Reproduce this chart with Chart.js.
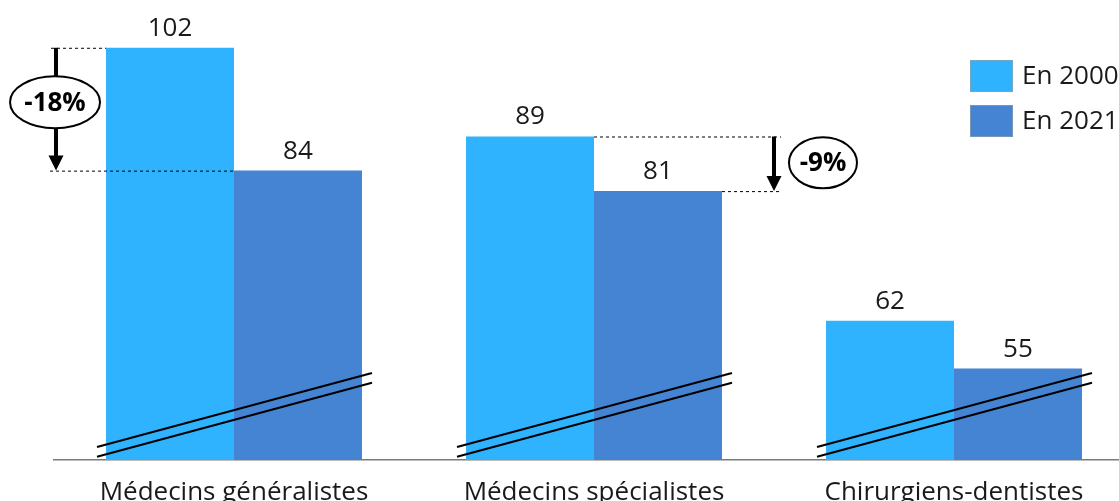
<!DOCTYPE html>
<html lang="fr">
<head>
<meta charset="utf-8">
<script src="https://cdn.jsdelivr.net/npm/chart.js@4"></script>
<style>
    html, body { margin: 0; padding: 0; overflow: hidden; background: #fff; }
    #wrap { width: 1134px; height: 501px; }
</style>
</head>
<body>
<div id="wrap"><canvas id="chart" width="1134" height="501"></canvas></div>
<script>
        // Data
        const categories = ['Médecins généralistes', 'Médecins spécialistes', 'Chirurgiens-dentistes'];
        const seriesLabels = ['En 2000', 'En 2021'];
        const values2000 = [102, 89, 62];
        const values2021 = [84, 81, 55];
        const changeLabels = ['-18%', '-9%', null];

        const FONT = "'Open Sans', 'Noto Sans', sans-serif";
        const TEXT_COLOR = '#1a1a1a';

        // value labels on top of each bar
        const valueLabels = {
            id: 'valueLabels',
            afterDatasetsDraw(chart) {
                const ctx = chart.ctx;
                ctx.save();
                ctx.font = '26px ' + FONT;
                ctx.fillStyle = TEXT_COLOR;
                ctx.textAlign = 'center';
                ctx.textBaseline = 'alphabetic';
                chart.data.datasets.forEach((ds, i) => {
                    chart.getDatasetMeta(i).data.forEach((bar, j) => {
                        ctx.fillText(String(ds.data[j]), bar.x, bar.y - 12);
                    });
                });
                ctx.restore();
            }
        };

        // two slanted lines = broken axis marks
        const breakMarks = {
            id: 'breakMarks',
            afterDatasetsDraw(chart) {
                const ctx = chart.ctx;
                const xs = chart.scales.x;
                const base = chart.chartArea.bottom;
                ctx.save();
                ctx.strokeStyle = '#000';
                ctx.lineWidth = 2;
                categories.forEach((c, i) => {
                    const cx = xs.getPixelForValue(i);
                    [[13, 87], [3.3, 77.3]].forEach(([l, r]) => {
                        ctx.beginPath();
                        ctx.moveTo(cx - 137, base - l);
                        ctx.lineTo(cx + 138, base - r);
                        ctx.stroke();
                    });
                });
                ctx.restore();
            }
        };

        function drawDashed(ctx, x1, x2, y) {
            ctx.save();
            ctx.setLineDash([3, 3]);
            ctx.lineWidth = 1;
            ctx.strokeStyle = '#000';
            ctx.beginPath();
            ctx.moveTo(x1, y + 0.5);
            ctx.lineTo(x2, y + 0.5);
            ctx.stroke();
            ctx.restore();
        }

        function drawArrow(ctx, x, y1, y2) {
            ctx.save();
            ctx.strokeStyle = '#000';
            ctx.fillStyle = '#000';
            ctx.lineWidth = 4;
            ctx.beginPath();
            ctx.moveTo(x, y1);
            ctx.lineTo(x, y2 - 14);
            ctx.stroke();
            ctx.beginPath();
            ctx.moveTo(x - 7.5, y2 - 15);
            ctx.lineTo(x + 7.5, y2 - 15);
            ctx.lineTo(x, y2);
            ctx.closePath();
            ctx.fill();
            ctx.restore();
        }

        function drawBubble(ctx, cx, cy, rx, ry, text) {
            ctx.save();
            ctx.beginPath();
            ctx.ellipse(cx, cy, rx, ry, 0, 0, Math.PI * 2);
            ctx.fillStyle = '#fff';
            ctx.fill();
            ctx.lineWidth = 2;
            ctx.strokeStyle = '#000';
            ctx.stroke();
            ctx.font = 'bold 26px ' + FONT;
            ctx.fillStyle = '#000';
            ctx.textAlign = 'center';
            ctx.textBaseline = 'middle';
            ctx.fillText(text, cx, cy + 1);
            ctx.restore();
        }

        // change arrows (-18%, -9%)
        const changeArrows = {
            id: 'changeArrows',
            afterDatasetsDraw(chart) {
                const ctx = chart.ctx;
                const barsA = chart.getDatasetMeta(0).data;
                const barsB = chart.getDatasetMeta(1).data;
                changeLabels.forEach((label, i) => {
                    if (!label) return;
                    const a = barsA[i], b = barsB[i];
                    const aLeft = a.x - a.width / 2, aRight = a.x + a.width / 2;
                    const bLeft = b.x - b.width / 2, bRight = b.x + b.width / 2;
                    if (i === 0) {
                        const ax = aLeft - 50;
                        drawDashed(ctx, ax - 5, aLeft, a.y);
                        drawDashed(ctx, ax - 6, bLeft, b.y);
                        drawArrow(ctx, ax, a.y, b.y);
                        drawBubble(ctx, ax - 1, (a.y + b.y) / 2 - 7, 45, 26, label);
                    } else {
                        const ax = bRight + 52;
                        drawDashed(ctx, aRight, bRight + 59, a.y);
                        drawDashed(ctx, bRight, bRight + 59, b.y);
                        drawArrow(ctx, ax, a.y, b.y);
                        drawBubble(ctx, bRight + 101, (a.y + b.y) / 2 - 1, 34, 25.5, label);
                    }
                });
            }
        };

        // legend drawn inside the plot, top right
        const insideLegend = {
            id: 'insideLegend',
            afterDatasetsDraw(chart) {
                const ctx = chart.ctx;
                ctx.save();
                ctx.font = '26px ' + FONT;
                ctx.textBaseline = 'middle';
                ctx.textAlign = 'left';
                chart.data.datasets.forEach((ds, i) => {
                    const y = 60 + i * 45;
                    ctx.fillStyle = ds.backgroundColor;
                    ctx.fillRect(970, y, 43, 32);
                    ctx.strokeStyle = 'rgba(160,160,160,0.6)';
                    ctx.lineWidth = 1;
                    ctx.strokeRect(970.5, y + 0.5, 42, 31);
                    ctx.fillStyle = TEXT_COLOR;
                    ctx.fillText(ds.label, 1022, y + 17);
                });
                ctx.restore();
            }
        };

        new Chart(document.getElementById('chart'), {
            type: 'bar',
            data: {
                labels: categories,
                datasets: [
                    { label: seriesLabels[0], data: values2000, backgroundColor: '#2fb3fe' },
                    { label: seriesLabels[1], data: values2021, backgroundColor: '#4584d3' }
                ]
            },
            options: {
                responsive: false,
                animation: false,
                layout: { padding: { left: 54, right: 0, top: 0, bottom: 0 } },
                datasets: {
                    bar: { categoryPercentage: 0.711, barPercentage: 1.0, borderWidth: 0 }
                },
                plugins: {
                    legend: { display: false },
                    tooltip: { enabled: false }
                },
                scales: {
                    x: {
                        grid: { display: false, drawTicks: false },
                        border: { display: true, color: '#7a7a7a', width: 1.5 },
                        ticks: {
                            font: { family: FONT, size: 26 },
                            color: TEXT_COLOR,
                            padding: 17,
                            autoSkip: false,
                            maxRotation: 0
                        },
                        afterFit: (scale) => { scale.height = 41; }
                    },
                    y: { display: false, min: 41.6, max: 109 }
                }
            },
            plugins: [breakMarks, valueLabels, changeArrows, insideLegend]
        });
</script>
</body>
</html>
